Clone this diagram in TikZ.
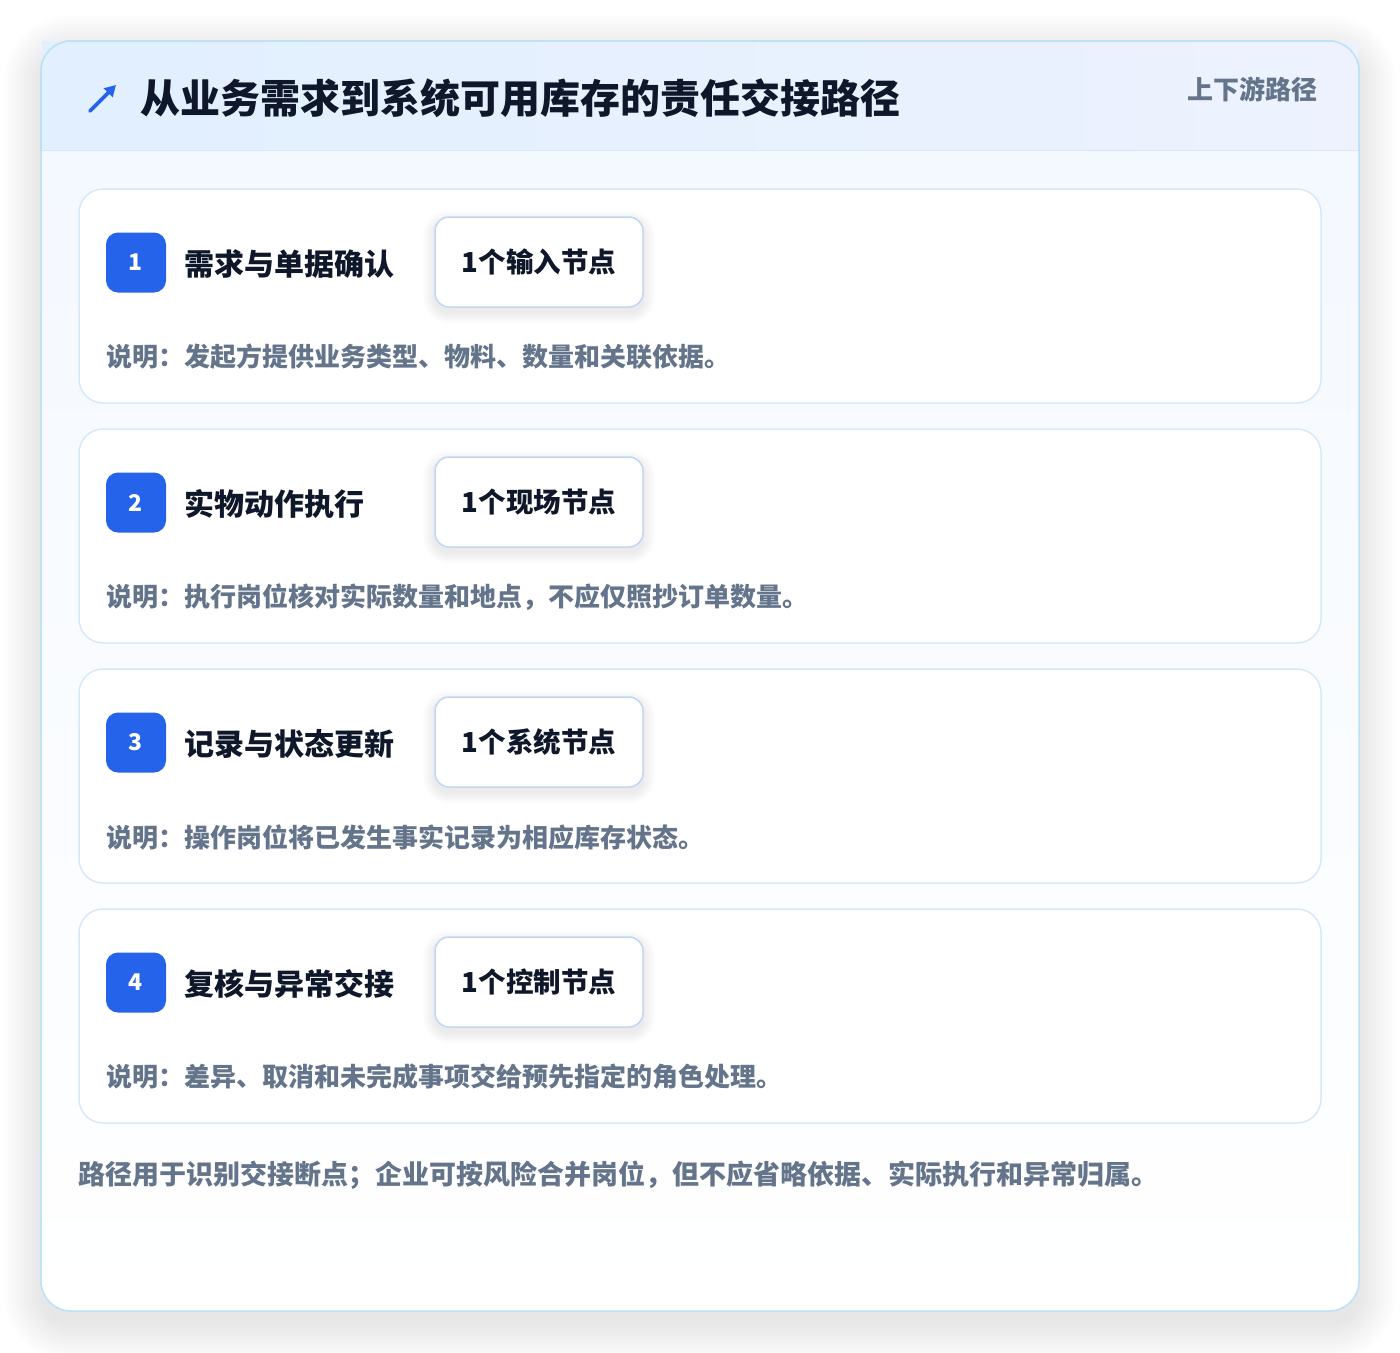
\documentclass[tikz,border=0pt]{standalone}
\usepackage{fontspec}
\setmainfont{Noto Sans CJK SC}
\usetikzlibrary{arrows.meta}
\definecolor{brand}{HTML}{2563EB}
\definecolor{ink}{HTML}{0F172A}
\definecolor{muted}{HTML}{64748B}
\definecolor{outerline}{HTML}{BAE1F7}
\definecolor{cardline}{HTML}{D6E8FA}
\definecolor{tagline}{HTML}{BFD7F5}
\definecolor{headA}{HTML}{E1EFFE}
\definecolor{headB}{HTML}{EDF2FE}
\definecolor{bodyA}{HTML}{F3F8FF}
\definecolor{shade}{HTML}{1E293B}
\tikzset{
  stepcard/.style={draw=cardline, line width=1.5pt, fill=white, rounded corners=24pt, minimum width=1242pt, minimum height=214pt, inner sep=0pt},
  badge/.style={fill=brand, rounded corners=12pt, minimum width=60pt, minimum height=60pt, inner sep=0pt, text=white, font=\fontsize{23}{23}\selectfont\bfseries},
  steptitle/.style={anchor=west, text=ink, inner sep=0pt, font=\fontsize{30}{30}\selectfont\bfseries},
  tagbox/.style={draw=tagline, line width=1.5pt, fill=white, rounded corners=14pt, minimum width=208pt, minimum height=90pt, inner sep=0pt, text=ink, font=\fontsize{27.5}{27.5}\selectfont\bfseries},
  desc/.style={anchor=west, text=muted, inner sep=0pt, font=\fontsize{26}{26}\selectfont\bfseries},
  softshade/.style={fill=shade, opacity=#1, draw=none},
}
\begin{document}
\begin{tikzpicture}[x=1pt,y=-1pt]
\useasboundingbox (0,0) rectangle (1400,1352);
\fill[white] (0,0) rectangle (1400,1352);
% soft shadow of the outer card
\foreach \k in {1,...,24}{
  \pgfmathsetmacro{\d}{\k*1.6}
  \pgfmathsetmacro{\r}{30+\d}
  \fill[softshade=0.0055, rounded corners=\r pt] (41-\d,53-\d) rectangle (1359+\d,1323+\d);
}
% outer card
\node (outer) [draw=outerline, line width=1.5pt, top color=bodyA, bottom color=white, rounded corners=30pt, minimum width=1318pt, minimum height=1270pt, inner sep=0pt] at (700,676) {};
% header band
\node (head) [left color=headA, right color=headB, minimum width=1316pt, minimum height=109pt, inner sep=0pt] at (700,96) {};
\draw[cardline, line width=1.2pt] (head.south west) -- (head.south east);
\draw[outerline, line width=1.5pt, rounded corners=30pt] (41,151) -- (41,41) -- (1359,41) -- (1359,151);
% icon
\coordinate (iconA) at (90,111);
\coordinate (iconB) at (116,85);
\draw[brand, line width=3.6pt, line cap=round, -{Triangle[length=11pt,width=12pt]}] (iconA) -- (iconB);
\node (title) [anchor=west, text=ink, inner sep=0pt, font=\fontsize{40}{40}\selectfont\bfseries] at (140,98) {从业务需求到系统可用库存的责任交接路径};
\node (meta) [anchor=east, text=muted, inner sep=0pt, font=\fontsize{26}{26}\selectfont\bfseries] at (1318,89) {上下游路径};
% steps
\foreach \i/\num/\ttl/\tag/\dsc in {
  0/1/需求与单据确认/1个输入节点/说明：发起方提供业务类型、物料、数量和关联依据。,
  1/2/实物动作执行/1个现场节点/说明：执行岗位核对实际数量和地点，不应仅照抄订单数量。,
  2/3/记录与状态更新/1个系统节点/说明：操作岗位将已发生事实记录为相应库存状态。,
  3/4/复核与异常交接/1个控制节点/说明：差异、取消和未完成事项交给预先指定的角色处理。}{
  \pgfmathsetmacro{\top}{189+240*\i}
  \node (card\num) [stepcard] at (700,\top+107) {};
  \foreach \k in {1,...,10}{
    \pgfmathsetmacro{\d}{\k*1.2}
    \pgfmathsetmacro{\r}{14+\d}
    \fill[softshade=0.006, rounded corners=\r pt] (435-\d,\top+33-\d) rectangle (643+\d,\top+123+\d);
  }
  \node (badge\num) [badge] at (136,\top+73.5) {\num};
  \node (ttl\num) [steptitle] at (184,\top+75) {\ttl};
  \node (tag\num) [tagbox] at (539,\top+73) {\tag};
  \node (dsc\num) [desc] at (106,\top+168) {\dsc};
}
\node (foot) [anchor=west, text=muted, inner sep=0pt, font=\fontsize{27}{27}\selectfont\bfseries] at (78,1175) {路径用于识别交接断点；企业可按风险合并岗位，但不应省略依据、实际执行和异常归属。};
\end{tikzpicture}
\end{document}
